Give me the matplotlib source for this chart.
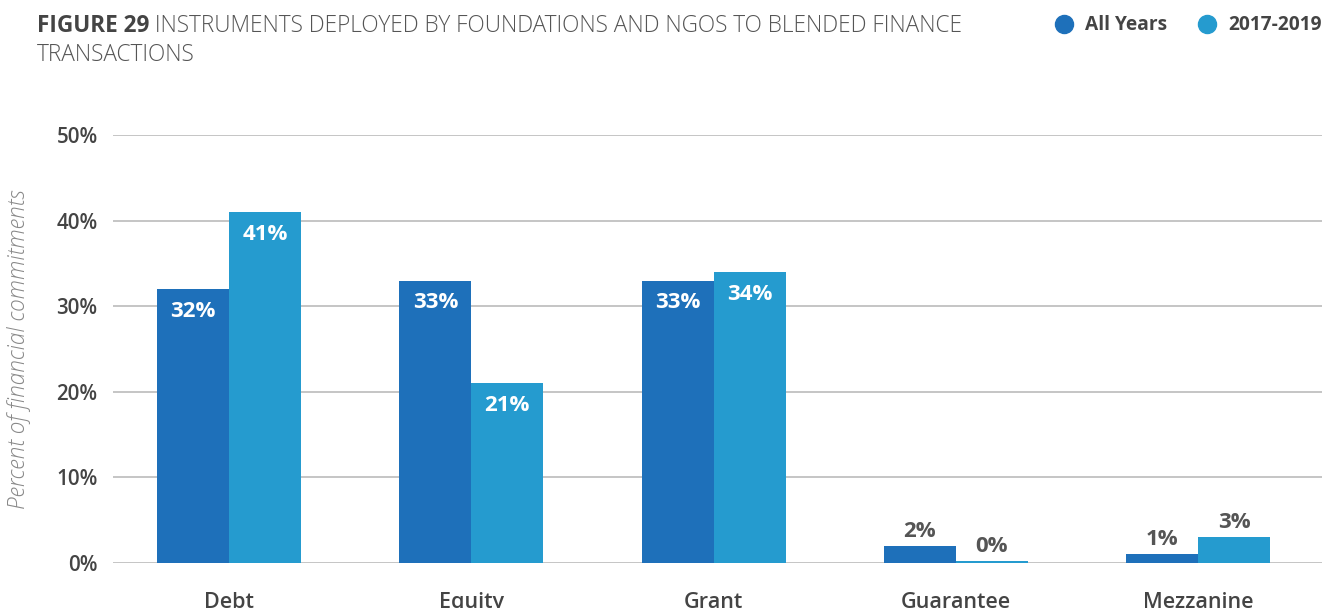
import matplotlib
matplotlib.use("Agg")
import matplotlib.pyplot as plt
from matplotlib.lines import Line2D

plt.rcParams['font.family'] = ['Open Sans', 'DejaVu Sans']

categories = ["Debt", "Equity", "Grant", "Guarantee", "Mezzanine"]
all_years = [32, 33, 33, 2, 1]
recent = [41, 21, 34, 0.2, 3]
all_labels = ["32%", "33%", "33%", "2%", "1%"]
recent_labels = ["41%", "21%", "34%", "0%", "3%"]
yticks = [0, 10, 20, 30, 40, 50]
ytick_labels = ["0%", "10%", "20%", "30%", "40%", "50%"]
series_names = ["All Years", "2017-2019"]

c_dark = "#1E70BA"
c_light = "#259BCF"
txt = "#444444"

fig = plt.figure(figsize=(13.37, 6.08), dpi=100)
ax = fig.add_axes([0.0845, 0.074, 0.9045, 0.704])

x = list(range(len(categories)))
w = 0.297
b1 = ax.bar([i - w / 2 for i in x], all_years, width=w, color=c_dark, zorder=3)
b2 = ax.bar([i + w / 2 for i in x], recent, width=w, color=c_light, zorder=3)

for bars, labels, vals in ((b1, all_labels, all_years), (b2, recent_labels, recent)):
    for bar, lab, v in zip(bars, labels, vals):
        cx = bar.get_x() + bar.get_width() / 2
        if v >= 10:
            ax.annotate(lab, (cx, v), xytext=(0, -8.5), textcoords='offset points',
                        ha='center', va='top', color='white', fontsize=16, fontweight='bold', zorder=4)
        else:
            ax.annotate(lab, (cx, v), xytext=(0, 3), textcoords='offset points',
                        ha='center', va='bottom', color='#555555', fontsize=16, fontweight='bold', zorder=4)

ax.set_ylim(0, 50)
ax.set_xlim(-0.479, 4.512)
ax.set_yticks(yticks)
ax.set_yticklabels(ytick_labels, fontsize=14.8, fontweight='semibold', color=txt)
ax.set_xticks(x)
ax.set_xticklabels(categories, fontsize=15.5, fontweight='semibold', color=txt)
ax.tick_params(axis='y', length=0, pad=11)
ax.tick_params(axis='x', length=0, pad=21)
ax.grid(axis='y', color='#BBBBBB', linewidth=1.2, zorder=0)
for s in ax.spines.values():
    s.set_visible(False)
ax.set_ylabel("Percent of financial commitments", fontsize=16.3, style='italic',
              fontweight='light', color='#888888')
ax.yaxis.set_label_coords(-0.068, 0.5)

t = fig.text(0.0277, 0.948, "FIGURE 29", fontsize=16.3, fontweight='bold', color=txt, va='baseline')
fig.canvas.draw()
ax.annotate(" INSTRUMENTS DEPLOYED BY FOUNDATIONS AND NGOS TO BLENDED FINANCE",
            xy=(1, 0), xycoords=t, va='bottom', ha='left', fontsize=16.3,
            fontweight='light', color='#555555', annotation_clip=False)
fig.text(0.0277, 0.9, "TRANSACTIONS", fontsize=16.3, fontweight='light', color='#555555', va='baseline')

handles = [Line2D([0], [0], marker='o', linestyle='', markersize=13, color=c_dark),
           Line2D([0], [0], marker='o', linestyle='', markersize=13, color=c_light)]
leg = fig.legend(handles, series_names, loc='upper right', bbox_to_anchor=(1.0015, 1.003),
                 ncol=2, frameon=False, handletextpad=0.12, columnspacing=1.05,
                 prop={'size': 13.8, 'weight': 'bold'})
for tx in leg.get_texts():
    tx.set_color(txt)

fig.savefig("out.png", dpi=100)
